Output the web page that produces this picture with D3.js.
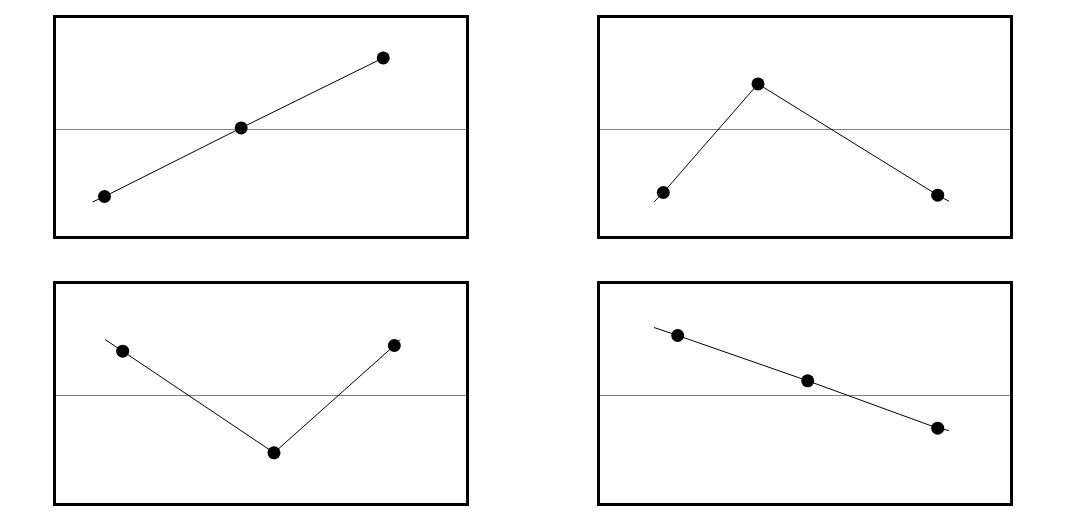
<!DOCTYPE html>
<html>
<head>
<meta charset="utf-8">
<script src="https://cdn.jsdelivr.net/npm/d3@7"></script>
<style>
  html, body { margin: 0; padding: 0; background: #fff; }
  svg { display: block; }
</style>
</head>
<body>
<svg id="chart" width="1066" height="526"></svg>
<script>
// ---- data (x: 0..10 across panel, y: 0 at reference line) ----
const dotsX1 = [1.21, 4.52, 7.96];
const dotsY1 = [-0.67, 0.016, 0.716];
const tailStart1 = [0.925, -0.724];
const tailEnd1 = null;

const dotsX2 = [1.569, 3.862, 8.213];
const dotsY2 = [-0.63, 0.456, -0.657];
const tailStart2 = [1.344, -0.724];
const tailEnd2 = [8.487, -0.717];

const dotsX3 = [1.651, 5.315, 8.228];
const dotsY3 = [0.443, -0.573, 0.50];
const tailStart3 = [1.223, 0.56];
const tailEnd3 = [8.366, 0.56];

const dotsX4 = [1.918, 5.065, 8.213];
const dotsY4 = [0.60, 0.147, -0.327];
const tailStart4 = [1.344, 0.68];
const tailEnd4 = [8.487, -0.35];

const referenceValue = 0;

// ---- layout ----
const layout = [
  { left: 54.5,  top: 16.5,  w: 413, h: 221, ref: 129.5 },
  { left: 598.5, top: 16.5,  w: 413, h: 221, ref: 129.5 },
  { left: 54.5,  top: 282.5, w: 413, h: 222, ref: 395.5 },
  { left: 598.5, top: 282.5, w: 413, h: 222, ref: 395.5 }
];

const series = [
  { xs: dotsX1, ys: dotsY1, start: tailStart1, end: tailEnd1 },
  { xs: dotsX2, ys: dotsY2, start: tailStart2, end: tailEnd2 },
  { xs: dotsX3, ys: dotsY3, start: tailStart3, end: tailEnd3 },
  { xs: dotsX4, ys: dotsY4, start: tailStart4, end: tailEnd4 }
];

const svg = d3.select("#chart");

series.forEach((s, i) => {
  const L = layout[i];
  const x = d3.scaleLinear().domain([0, 10]).range([L.left, L.left + L.w]);
  const y = d3.scaleLinear().domain([-1, 1]).range([L.ref + 100, L.ref - 100]);
  const g = svg.append("g");

  // reference line
  g.append("line")
    .attr("x1", L.left).attr("x2", L.left + L.w)
    .attr("y1", y(referenceValue)).attr("y2", y(referenceValue))
    .attr("stroke", "#808080").attr("stroke-width", 1);

  // connecting line
  const pts = [];
  if (s.start) pts.push(s.start);
  s.xs.forEach((v, k) => pts.push([v, s.ys[k]]));
  if (s.end) pts.push(s.end);
  const line = d3.line().x(d => x(d[0])).y(d => y(d[1]));
  g.append("path")
    .attr("d", line(pts))
    .attr("fill", "none")
    .attr("stroke", "#000")
    .attr("stroke-width", 1);

  // dots
  g.selectAll("circle")
    .data(s.xs.map((v, k) => [v, s.ys[k]]))
    .join("circle")
    .attr("cx", d => x(d[0]))
    .attr("cy", d => y(d[1]))
    .attr("r", 6.5)
    .attr("fill", "#000");

  // frame
  g.append("rect")
    .attr("x", L.left).attr("y", L.top)
    .attr("width", L.w).attr("height", L.h)
    .attr("fill", "none")
    .attr("stroke", "#000")
    .attr("stroke-width", 3);
});
</script>
</body>
</html>
